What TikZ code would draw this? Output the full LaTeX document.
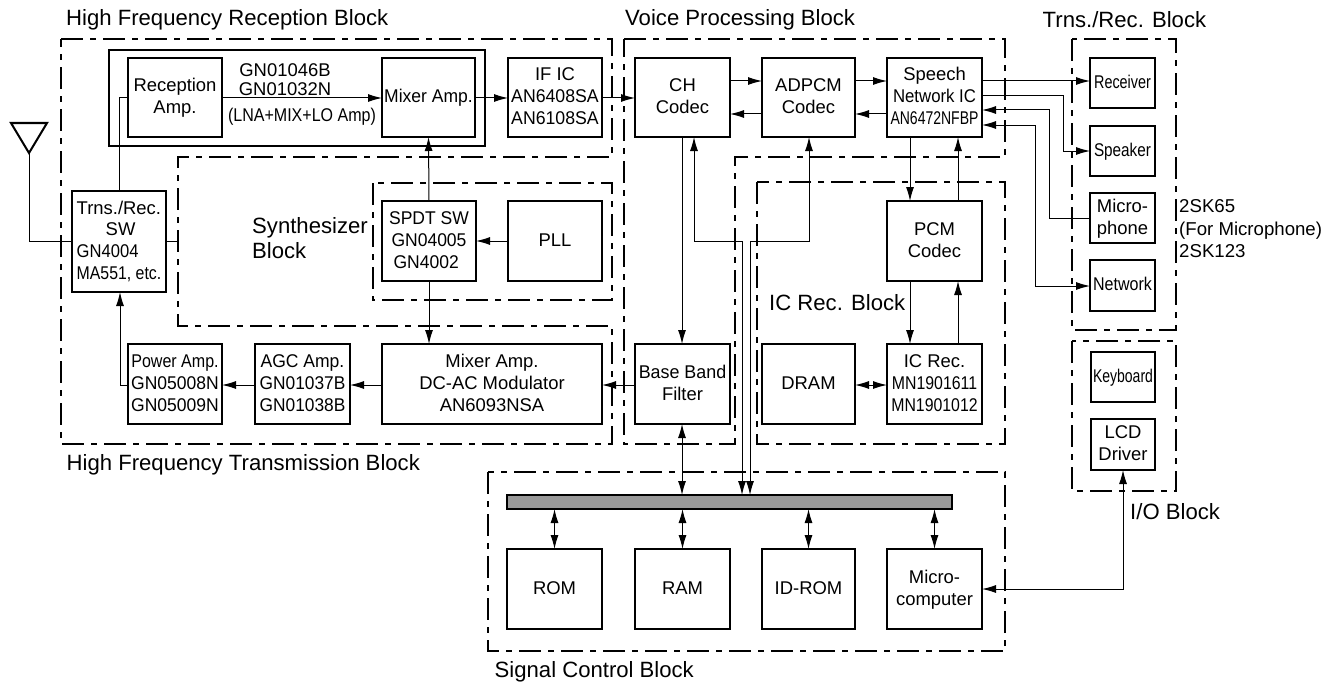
\documentclass[tikz,border=0pt]{standalone}
\usepackage{fontspec}
\setmainfont{Liberation Sans}
\usetikzlibrary{arrows.meta}
\newcommand\sx[2]{\scalebox{#1}[1]{#2}}
\tikzset{
  x=1bp,y=-1bp,
  blk/.style={draw=black,line width=2.6bp,inner sep=0pt,outer sep=0pt,align=center,font=\fontsize{18.5}{22}\selectfont},
  wire/.style={draw=black,line width=1bp},
  arr/.style={wire,-{Latex[length=14bp,width=8bp]}},
  both/.style={wire,{Latex[length=14bp,width=8bp]}-{Latex[length=14bp,width=8bp]}},
  zone/.style={draw=black,line width=1.4bp,dash pattern=on 22bp off 7bp on 6bp off 7bp},
  title/.style={anchor=west,inner sep=0pt,align=left,font=\fontsize{22.2}{25}\selectfont},
  small/.style={anchor=west,inner sep=0pt,align=left,font=\fontsize{18.7}{22.5}\selectfont},
  plain/.style={inner sep=0pt,align=center,font=\fontsize{18.5}{19}\selectfont},
}
\newcommand\bx[6]{\node[blk,minimum width={(#4-#2)*1bp},minimum height={(#5-#3)*1bp}] (#1) at ({(#2+#4)/2},{(#3+#5)/2}) {\raisebox{-1bp}[\height][\depth]{\begin{tabular}{@{}c@{}}#6\end{tabular}}};}
\begin{document}
\begin{tikzpicture}
\useasboundingbox (0,0) rectangle (1337,685);
% zones
\draw[zone] (61,39) -- (612,39) -- (612,157) -- (178,157) -- (178,326) -- (612,326) -- (612,444) -- (61,444) -- cycle;
\draw[zone] (373,183) rectangle (612,300);
\draw[zone] (624,39) -- (1005,39) -- (1005,157) -- (735,157) -- (735,444) -- (624,444) -- cycle;
\draw[zone] (757,182) rectangle (1005,444);
\draw[zone] (1072,39) rectangle (1176,330);
\draw[zone] (1072,341) rectangle (1176,491);
\draw[zone] (488,472) rectangle (1005,651);
% outer solid enclosure
\node[draw=black,line width=1.6bp,inner sep=0pt,outer sep=0pt,minimum width=376bp,minimum height=96bp] (lna) at (297,98) {};
% boxes
\bx{recamp}{128}{58}{222}{137}{Reception\\Amp.}
\bx{mixrx}{382}{58}{475}{137}{\sx{.95}{Mixer Amp.}}
\bx{ific}{508}{58}{602}{137}{IF IC\\\sx{.96}{AN6408SA}\\\sx{.96}{AN6108SA}}
\bx{sw}{72}{191}{166}{292}{\begin{tabular}{@{}l@{}}Trns./Rec.\\\hspace*{29bp}SW\\\sx{.9}{GN4004}\\\sx{.86}{MA551, etc.}\end{tabular}}
\bx{spdt}{382}{201}{476}{281}{\sx{.95}{SPDT SW}\\\sx{.95}{GN04005}\\\sx{.95}{GN4002\hspace*{6bp}}}
\bx{pll}{508}{201}{602}{281}{PLL}
\bx{pwr}{128}{344}{222}{424}{\sx{.87}{Power Amp.}\\\sx{.95}{GN05008N}\\\sx{.95}{GN05009N}}
\bx{agc}{255}{344}{350}{424}{\sx{.95}{AGC Amp.}\\\sx{.94}{GN01037B}\\\sx{.94}{GN01038B}}
\bx{mixtx}{382}{344}{602}{424}{Mixer Amp.\\DC-AC Modulator\\AN6093NSA}
\bx{ch}{635}{58}{730}{137}{CH\\Codec}
\bx{adpcm}{762}{58}{855}{137}{ADPCM\\Codec}
\bx{speech}{887}{58}{982}{137}{Speech\\\sx{.91}{Network IC}\\\sx{.76}{AN6472NFBP}}
\bx{pcm}{887}{201}{982}{281}{PCM\\Codec}
\bx{bbf}{635}{344}{730}{424}{\sx{.97}{Base Band}\\Filter}
\bx{dram}{762}{344}{855}{424}{DRAM}
\bx{icrec}{887}{344}{982}{424}{IC Rec.\\\sx{.86}{MN1901611}\\\sx{.86}{MN1901012}}
\bx{rcv}{1090}{58}{1155}{108}{\sx{.78}{Receiver}}
\bx{spk}{1090}{126}{1155}{176}{\sx{.83}{Speaker}}
\bx{mic}{1090}{193}{1155}{243}{Micro-\\phone}
\bx{net}{1090}{260}{1155}{311}{\sx{.87}{Network}}
\bx{kbd}{1091}{352}{1155}{402}{\sx{.76}{Keyboard}}
\bx{lcd}{1091}{419}{1155}{470}{LCD\\Driver}
\bx{rom}{507}{549}{602}{629}{ROM}
\bx{ram}{635}{549}{730}{629}{RAM}
\bx{idrom}{762}{549}{855}{629}{ID-ROM}
\bx{micro}{887}{549}{982}{629}{Micro-\\computer}
\node[draw=black,line width=1.6bp,fill=black!40,inner sep=0pt,outer sep=0pt,minimum width=445bp,minimum height=14bp] (bus) at (729.5,502) {};
% antenna
\coordinate (antpt) at (29,153);
\draw[line width=2bp,line join=miter] (11,123) -- (47,123) -- (antpt) -- cycle;
% coordinates for wire levels
\coordinate (y98) at (0,98);
\coordinate (y81) at (0,81);
\coordinate (y114) at (0,114);
\coordinate (y241) at (0,241);
\coordinate (y385) at (0,385);
% wires
\draw[wire] (antpt) |- (sw.west |- y241);
\draw[wire] (sw.east |- y241) -- (178,241);
\draw[wire] (recamp.west |- y98) -| (119,191);
\draw[arr] (recamp.east |- y98) -- (mixrx.west |- y98);
\draw[arr] (mixrx.east |- y98) -- (ific.west |- y98);
\draw[arr] (ific.east |- y98) -- (ch.west |- y98);
\draw[arr] (pll.west |- y241) -- (spdt.east |- y241);
\draw[arr] (spdt.north) -- (mixrx.south);
\draw[arr] (spdt.south) -- (spdt.south |- mixtx.north);
\draw[arr] (mixtx.west |- y385) -- (agc.east |- y385);
\draw[arr] (agc.west |- y385) -- (pwr.east |- y385);
\draw[arr] (pwr.west |- y385) -| (120,292);
\draw[arr] (bbf.west |- y385) -- (mixtx.east |- y385);
\draw[arr] (ch.east |- y81) -- (adpcm.west |- y81);
\draw[arr] (adpcm.east |- y81) -- (speech.west |- y81);
\draw[arr] (adpcm.west |- y114) -- (ch.east |- y114);
\draw[arr] (speech.west |- y114) -- (adpcm.east |- y114);
\draw[arr] (speech.east |- y81) -- (rcv.west |- y81);
\draw[arr] (speech.east |- 0,96) -- (1063,96) |- (spk.west);
\draw[arr] (mic.west) -- (1049.5,218) |- (speech.east |- 0,110);
\draw[both] (net.west |- 0,286) -- (1035,286) |- (speech.east |- 0,125);
\draw[arr] (speech.south -| 910,0) -- (pcm.north -| 910,0);
\draw[arr] (pcm.north -| 958,0) -- (speech.south -| 958,0);
\draw[arr] (pcm.south -| 910,0) -- (icrec.north -| 910,0);
\draw[arr] (icrec.north -| 958,0) -- (pcm.south -| 958,0);
\draw[arr] (ch.south -| 682,0) -- (bbf.north -| 682,0);
\draw[both] (ch.south -| 694,0) |- (742,241) -- (bus.north -| 742,0);
\draw[both] (adpcm.south -| 809,0) |- (750,241) -- (bus.north -| 750,0);
\draw[both] (bbf.south -| 682,0) -- (bus.north -| 682,0);
\draw[both] (dram.east |- y385) -- (icrec.west |- y385);
\draw[both] (bus.south -| rom.north) -- (rom.north);
\draw[both] (bus.south -| ram.north) -- (ram.north);
\draw[both] (bus.south -| idrom.north) -- (idrom.north);
\draw[both] (bus.south -| micro.north) -- (micro.north);
\draw[both] (micro.east) -| (lcd.south);
% labels
\node[title] (t1) at (66,20) {High Frequency Reception Block};
\node[title] (t2) at (625,20) {Voice Processing Block};
\node[title] (t3) at (1042.5,20) {Trns./Rec. Block};
\node[title] (t4) at (252,238.5) {Synthesizer\\Block};
\node[title] (t5) at (769,303) {IC Rec. Block};
\node[title] (t6) at (66.5,465) {High Frequency Transmission Block};
\node[title] (t7) at (494.5,672) {Signal Control Block};
\node[title] (t8) at (1130,512) {I/O Block};
\node[small] (t9) at (1179,229) {2SK65\\(For Microphone)\\2SK123};
\node[plain] (t10) at (285,79.5) {GN01046B\\GN01032N};
\node[plain] (t11) at (302,117) {\sx{.87}{(LNA+MIX+LO Amp)}};
\end{tikzpicture}
\end{document}
